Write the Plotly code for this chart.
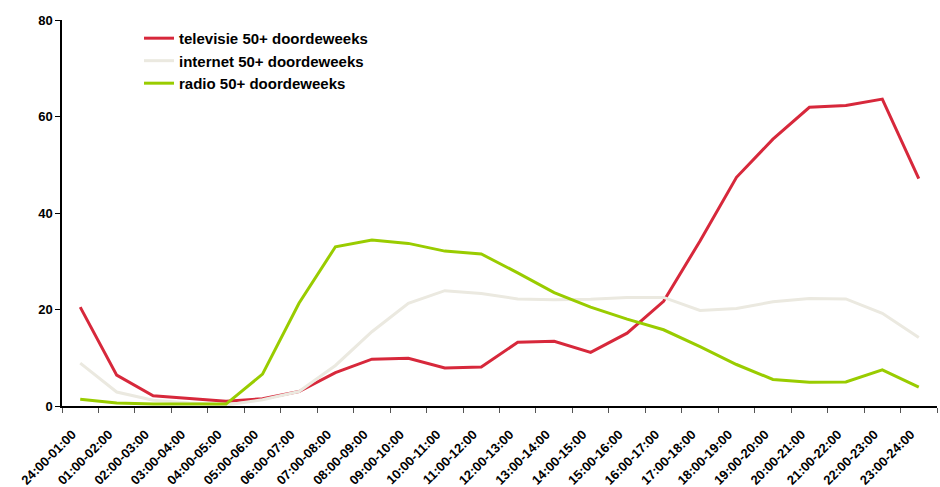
import plotly.graph_objects as go

slots = ["24:00-01:00", "01:00-02:00", "02:00-03:00", "03:00-04:00", "04:00-05:00",
         "05:00-06:00", "06:00-07:00", "07:00-08:00", "08:00-09:00", "09:00-10:00",
         "10:00-11:00", "11:00-12:00", "12:00-13:00", "13:00-14:00", "14:00-15:00",
         "15:00-16:00", "16:00-17:00", "17:00-18:00", "18:00-19:00", "19:00-20:00",
         "20:00-21:00", "21:00-22:00", "22:00-23:00", "23:00-24:00"]

televisie = [20.5, 6.4, 2.1, 1.5, 1.0, 1.5, 3.0, 6.9, 9.7, 9.9, 7.9, 8.1,
             13.2, 13.4, 11.1, 15.1, 21.7, 34.2, 47.4, 55.3, 61.9, 62.3, 63.6, 47.1]
internet = [8.9, 2.9, 1.2, 0.6, 0.2, 1.3, 3.0, 8.4, 15.4, 21.3, 23.9, 23.3,
            22.2, 22.0, 22.1, 22.5, 22.5, 19.8, 20.2, 21.6, 22.3, 22.2, 19.2, 14.2]
radio = [1.4, 0.6, 0.4, 0.4, 0.4, 6.6, 21.3, 33.0, 34.4, 33.7, 32.1, 31.5,
         27.6, 23.5, 20.5, 18.0, 15.8, 12.3, 8.6, 5.5, 4.9, 5.0, 7.5, 3.9]

series = [
    ("televisie 50+ doordeweeks", televisie, "#d7283b"),
    ("internet 50+ doordeweeks", internet, "#ebe9e0"),
    ("radio 50+ doordeweeks", radio, "#99cc00"),
]

fig = go.Figure()
for name, vals, color in series:
    fig.add_trace(go.Scatter(x=slots, y=vals, name=name, mode="lines",
                             line=dict(color=color, width=3)))

font_family = "Liberation Sans, Arial, sans-serif"
fig.update_layout(
    width=940, height=487,
    margin=dict(l=62, r=3, t=20, b=81),
    plot_bgcolor="white", paper_bgcolor="white",
    font=dict(family=font_family, size=11, color="black"),
    showlegend=True,
    legend=dict(x=0.088, y=0.995, xanchor="left", yanchor="top",
                bgcolor="rgba(0,0,0,0)", tracegroupgap=0,
                font=dict(size=15, family=font_family, color="black", weight="bold"),
                itemwidth=30),
    xaxis=dict(type="category", showgrid=False, showline=True, linecolor="black",
               linewidth=1.5, ticks="outside", tickson="boundaries", ticklen=5,
               tickcolor="#555", tickangle=-45, ticklabelstandoff=14,
               ticklabelshift=-8, automargin=False,
               tickfont=dict(size=13, weight="bold", family=font_family),
               range=[-0.5, 23.5]),
    yaxis=dict(range=[0, 80], tickvals=[0, 20, 40, 60, 80], showgrid=False,
               showline=True, linecolor="black", linewidth=1.5, ticks="outside",
               ticklen=5, tickcolor="black", zeroline=False, automargin=False,
               tickfont=dict(size=13, weight="bold", family=font_family)),
)

fig.write_html("out.html")
